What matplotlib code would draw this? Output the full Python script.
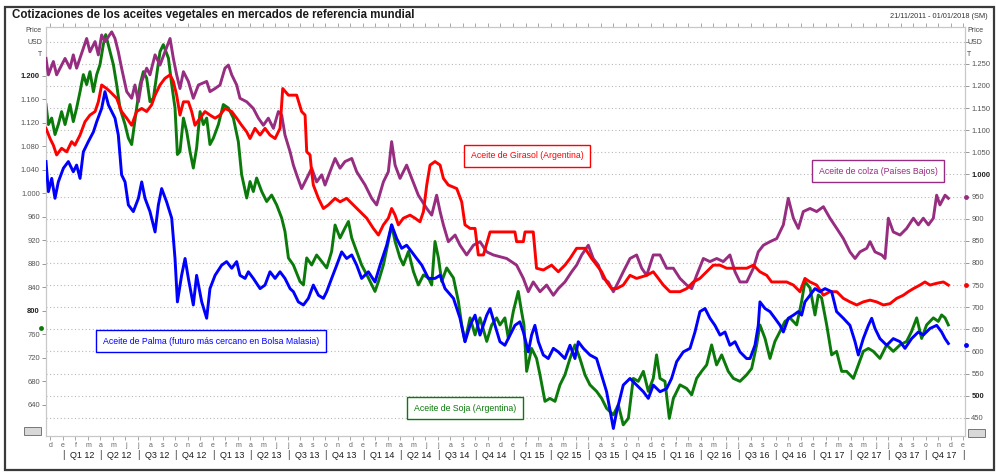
import numpy as np
import matplotlib.pyplot as plt
from matplotlib.patches import Rectangle

plt.rcParams['font.family'] = ['Liberation Sans', 'DejaVu Sans']

# ---- data (decimal years, USD/t) ----
# Aceite de colza (Paises Bajos) - right axis
colza_t = [2011.887, 2011.903, 2011.936, 2011.958, 2012.014, 2012.047, 2012.069, 2012.091, 2012.136, 2012.158,
           2012.180, 2012.214, 2012.236, 2012.258, 2012.280, 2012.325, 2012.347, 2012.369, 2012.391, 2012.425,
           2012.458, 2012.480, 2012.503, 2012.525, 2012.558, 2012.580, 2012.614, 2012.647, 2012.680, 2012.714,
           2012.736, 2012.758, 2012.780, 2012.803, 2012.836, 2012.869, 2012.903, 2012.958, 2012.980, 2013.014,
           2013.047, 2013.080, 2013.103, 2013.125, 2013.158, 2013.180, 2013.225, 2013.269, 2013.303, 2013.336,
           2013.369, 2013.403, 2013.436, 2013.458, 2013.480, 2013.514, 2013.536, 2013.558, 2013.591, 2013.625,
           2013.658, 2013.691, 2013.725, 2013.747, 2013.780, 2013.814, 2013.847, 2013.880, 2013.925, 2013.958,
           2014.014, 2014.058, 2014.091, 2014.136, 2014.169, 2014.191, 2014.214, 2014.247, 2014.291, 2014.325,
           2014.369, 2014.425, 2014.458, 2014.491, 2014.514, 2014.536, 2014.569, 2014.614, 2014.647, 2014.691,
           2014.736, 2014.780, 2014.825, 2014.869, 2014.958, 2015.024, 2015.069, 2015.102, 2015.135, 2015.180,
           2015.224, 2015.269, 2015.302, 2015.346, 2015.391, 2015.424, 2015.458, 2015.502, 2015.535, 2015.569,
           2015.602, 2015.635, 2015.669, 2015.702, 2015.735, 2015.780, 2015.824, 2015.858, 2015.891, 2015.935,
           2015.980, 2016.024, 2016.069, 2016.113, 2016.158, 2016.191, 2016.224, 2016.269, 2016.313, 2016.358,
           2016.402, 2016.446, 2016.480, 2016.513, 2016.558, 2016.602, 2016.635, 2016.669, 2016.713, 2016.758,
           2016.802, 2016.835, 2016.869, 2016.902, 2016.935, 2016.980, 2017.024, 2017.069, 2017.113, 2017.158,
           2017.202, 2017.246, 2017.280, 2017.313, 2017.358, 2017.380, 2017.413, 2017.458, 2017.480, 2017.502,
           2017.535, 2017.580, 2017.624, 2017.669, 2017.702, 2017.735, 2017.769, 2017.802, 2017.824, 2017.846,
           2017.880, 2017.902]
colza_v = [1262, 1225, 1255, 1225, 1262, 1240, 1270, 1240, 1285, 1307,
           1277, 1300, 1270, 1315, 1300, 1322, 1307, 1277, 1240, 1187,
           1172, 1202, 1164, 1210, 1240, 1225, 1270, 1247, 1277, 1307,
           1262, 1225, 1194, 1232, 1210, 1172, 1202, 1210, 1187, 1194,
           1202, 1240, 1247, 1225, 1202, 1172, 1164, 1149, 1127, 1111,
           1127, 1104, 1142, 1134, 1089, 1051, 1021, 999, 968, 991,
           1014, 983, 999, 976, 1006, 1036, 1014, 1029, 1036, 1006,
           976, 946, 931, 983, 1006, 1074, 1021, 991, 1021, 991,
           953, 923, 908, 953, 916, 886, 848, 863, 840, 818,
           840, 848, 825, 818, 810, 795, 765, 735, 757, 735,
           750, 727, 742, 757, 780, 795, 818, 840, 810, 795,
           765, 757, 735, 757, 780, 810, 818, 788, 772, 818,
           818, 788, 788, 765, 750, 742, 772, 810, 803, 810,
           803, 818, 780, 757, 757, 788, 825, 840, 848, 855,
           886, 946, 901, 878, 916, 923, 916, 927, 901, 878,
           855, 825, 810, 825, 833, 848, 825, 818, 810, 901,
           870, 863, 878, 901, 886, 901, 886, 901, 953, 931,
           953, 946]

# Aceite de Girasol (Argentina) - right axis
girasol_t = [2011.887, 2011.914, 2011.936, 2011.958, 2011.991, 2012.025, 2012.058, 2012.080, 2012.114, 2012.147,
             2012.180, 2012.214, 2012.236, 2012.258, 2012.291, 2012.314, 2012.358, 2012.391, 2012.425, 2012.458,
             2012.491, 2012.525, 2012.558, 2012.591, 2012.614, 2012.647, 2012.680, 2012.714, 2012.736, 2012.758,
             2012.780, 2012.803, 2012.836, 2012.858, 2012.880, 2012.914, 2012.947, 2012.980, 2013.014, 2013.047,
             2013.080, 2013.125, 2013.158, 2013.191, 2013.225, 2013.247, 2013.280, 2013.314, 2013.347, 2013.380,
             2013.414, 2013.447, 2013.465, 2013.503, 2013.558, 2013.591, 2013.614, 2013.625, 2013.647, 2013.658,
             2013.669, 2013.703, 2013.736, 2013.769, 2013.814, 2013.847, 2013.891, 2013.936, 2013.980, 2014.025,
             2014.069, 2014.103, 2014.136, 2014.169, 2014.191, 2014.214, 2014.236, 2014.269, 2014.314, 2014.347,
             2014.380, 2014.403, 2014.425, 2014.447, 2014.480, 2014.514, 2014.536, 2014.569, 2014.625, 2014.658,
             2014.680, 2014.714, 2014.747, 2014.769, 2014.803, 2014.847, 2015.013, 2015.024, 2015.069, 2015.080,
             2015.135, 2015.157, 2015.202, 2015.257, 2015.302, 2015.346, 2015.380, 2015.424, 2015.480, 2015.524,
             2015.558, 2015.591, 2015.624, 2015.657, 2015.691, 2015.735, 2015.780, 2015.824, 2015.891, 2015.935,
             2015.969, 2016.002, 2016.046, 2016.113, 2016.158, 2016.202, 2016.246, 2016.291, 2016.335, 2016.380,
             2016.424, 2016.491, 2016.558, 2016.602, 2016.646, 2016.691, 2016.724, 2016.780, 2016.824, 2016.869,
             2016.913, 2016.946, 2016.980, 2017.024, 2017.069, 2017.113, 2017.158, 2017.202, 2017.246, 2017.291,
             2017.335, 2017.380, 2017.424, 2017.469, 2017.513, 2017.558, 2017.602, 2017.635, 2017.669, 2017.713,
             2017.746, 2017.780, 2017.824, 2017.869, 2017.902]
girasol_v = [1104, 1081, 1066, 1044, 1059, 1051, 1074, 1066, 1089, 1119,
             1134, 1142, 1164, 1202, 1194, 1187, 1172, 1142, 1127, 1111,
             1142, 1149, 1142, 1157, 1179, 1202, 1217, 1225, 1210, 1179,
             1134, 1164, 1164, 1142, 1111, 1127, 1142, 1134, 1127, 1134,
             1149, 1142, 1127, 1111, 1096, 1081, 1104, 1089, 1104, 1089,
             1081, 1104, 1194, 1179, 1179, 1142, 1134, 1051, 1044, 1006,
             976, 946, 923, 931, 946, 938, 946, 931, 916, 901,
             878, 863, 886, 901, 923, 908, 886, 901, 908, 901,
             893, 916, 976, 1021, 1029, 1021, 991, 976, 968, 938,
             886, 878, 878, 818, 818, 870, 870, 848, 848, 870,
             870, 788, 784, 795, 780, 795, 810, 833, 833, 810,
             795, 780, 757, 742, 742, 750, 772, 765, 772, 780,
             765, 750, 735, 735, 742, 757, 765, 780, 795, 795,
             788, 788, 788, 795, 780, 772, 757, 757, 757, 750,
             735, 765, 757, 750, 727, 735, 735, 720, 712, 705,
             712, 716, 712, 705, 708, 720, 727, 735, 742, 750,
             757, 750, 754, 757, 750]

# Aceite de Palma (futuro mas cercano en Bolsa Malasia) - right axis
palma_t = [2011.887, 2011.903, 2011.925, 2011.947, 2011.969, 2012.003, 2012.036, 2012.069, 2012.091, 2012.114,
           2012.136, 2012.169, 2012.203, 2012.225, 2012.258, 2012.280, 2012.303, 2012.325, 2012.347, 2012.369,
           2012.391, 2012.414, 2012.436, 2012.469, 2012.503, 2012.525, 2012.547, 2012.580, 2012.614, 2012.636,
           2012.658, 2012.691, 2012.725, 2012.747, 2012.763, 2012.791, 2012.814, 2012.836, 2012.869, 2012.891,
           2012.925, 2012.958, 2012.980, 2013.014, 2013.058, 2013.091, 2013.125, 2013.158, 2013.180, 2013.214,
           2013.236, 2013.269, 2013.314, 2013.347, 2013.380, 2013.414, 2013.447, 2013.480, 2013.514, 2013.536,
           2013.569, 2013.603, 2013.636, 2013.669, 2013.703, 2013.736, 2013.758, 2013.791, 2013.825, 2013.858,
           2013.891, 2013.925, 2013.958, 2013.991, 2014.036, 2014.080, 2014.114, 2014.158, 2014.191, 2014.225,
           2014.258, 2014.291, 2014.325, 2014.358, 2014.392, 2014.436, 2014.480, 2014.514, 2014.547, 2014.603,
           2014.647, 2014.680, 2014.714, 2014.747, 2014.780, 2014.825, 2014.847, 2014.880, 2014.913, 2014.946,
           2014.980, 2015.013, 2015.046, 2015.069, 2015.102, 2015.124, 2015.146, 2015.169, 2015.202, 2015.235,
           2015.269, 2015.302, 2015.346, 2015.380, 2015.413, 2015.435, 2015.469, 2015.513, 2015.557, 2015.591,
           2015.624, 2015.669, 2015.691, 2015.735, 2015.780, 2015.824, 2015.869, 2015.902, 2015.935, 2015.980,
           2016.024, 2016.057, 2016.091, 2016.135, 2016.180, 2016.213, 2016.246, 2016.280, 2016.313, 2016.346,
           2016.380, 2016.413, 2016.446, 2016.480, 2016.513, 2016.557, 2016.580, 2016.613, 2016.635, 2016.646,
           2016.680, 2016.713, 2016.746, 2016.780, 2016.802, 2016.835, 2016.869, 2016.902, 2016.924, 2016.946,
           2016.980, 2017.013, 2017.046, 2017.080, 2017.124, 2017.157, 2017.202, 2017.246, 2017.280, 2017.302,
           2017.335, 2017.369, 2017.391, 2017.413, 2017.446, 2017.491, 2017.535, 2017.580, 2017.613, 2017.657,
           2017.702, 2017.735, 2017.780, 2017.824, 2017.857, 2017.880, 2017.902]
palma_v = [1029, 961, 991, 946, 983, 1014, 1029, 1006, 1021, 991,
           1051, 1074, 1096, 1119, 1149, 1187, 1157, 1142, 1127, 1089,
           999, 983, 931, 916, 946, 983, 946, 916, 870, 931,
           968, 938, 901, 810, 712, 772, 810, 765, 705, 772,
           712, 675, 742, 772, 795, 803, 788, 803, 772, 765,
           780, 765, 742, 750, 780, 765, 780, 765, 742, 735,
           712, 705, 720, 750, 727, 720, 735, 765, 795, 825,
           810, 818, 795, 765, 780, 757, 795, 840, 886, 855,
           833, 840, 825, 810, 795, 765, 765, 772, 742, 720,
           675, 622, 659, 682, 637, 682, 697, 659, 622, 614,
           637, 659, 667, 644, 599, 637, 659, 622, 592, 584,
           607, 599, 584, 614, 584, 622, 607, 592, 584, 546,
           509, 426, 464, 524, 539, 524, 509, 494, 524, 509,
           516, 539, 577, 599, 607, 644, 690, 697, 675, 659,
           637, 644, 614, 622, 599, 584, 584, 614, 659, 712,
           697, 690, 675, 659, 644, 675, 682, 690, 682, 712,
           727, 742, 735, 742, 735, 690, 675, 659, 622, 592,
           629, 659, 675, 652, 629, 614, 629, 622, 607, 629,
           644, 637, 652, 659, 644, 629, 618]

# Aceite de Soja (Argentina) - left axis
soja_t = [2011.887, 2011.903, 2011.925, 2011.947, 2011.969, 2011.991, 2012.014, 2012.047, 2012.069, 2012.091,
          2012.114, 2012.136, 2012.158, 2012.180, 2012.203, 2012.225, 2012.247, 2012.269, 2012.285, 2012.314,
          2012.336, 2012.358, 2012.380, 2012.414, 2012.436, 2012.458, 2012.491, 2012.514, 2012.536, 2012.558,
          2012.580, 2012.603, 2012.625, 2012.647, 2012.669, 2012.703, 2012.725, 2012.747, 2012.763, 2012.780,
          2012.803, 2012.825, 2012.847, 2012.869, 2012.891, 2012.914, 2012.936, 2012.958, 2012.980, 2013.003,
          2013.036, 2013.069, 2013.103, 2013.136, 2013.169, 2013.191, 2013.225, 2013.247, 2013.269, 2013.291,
          2013.325, 2013.358, 2013.391, 2013.425, 2013.458, 2013.480, 2013.503, 2013.536, 2013.580, 2013.603,
          2013.625, 2013.658, 2013.691, 2013.725, 2013.758, 2013.791, 2013.814, 2013.847, 2013.880, 2013.903,
          2013.925, 2013.958, 2013.991, 2014.036, 2014.080, 2014.103, 2014.136, 2014.169, 2014.191, 2014.214,
          2014.247, 2014.269, 2014.303, 2014.336, 2014.369, 2014.403, 2014.436, 2014.458, 2014.480, 2014.503,
          2014.525, 2014.558, 2014.603, 2014.636, 2014.658, 2014.680, 2014.714, 2014.747, 2014.780, 2014.825,
          2014.858, 2014.891, 2014.913, 2014.946, 2014.969, 2015.002, 2015.035, 2015.057, 2015.073, 2015.091,
          2015.124, 2015.157, 2015.180, 2015.213, 2015.246, 2015.280, 2015.313, 2015.346, 2015.380, 2015.413,
          2015.446, 2015.480, 2015.513, 2015.557, 2015.591, 2015.624, 2015.669, 2015.702, 2015.735, 2015.769,
          2015.802, 2015.835, 2015.869, 2015.902, 2015.935, 2015.957, 2015.980, 2016.013, 2016.042, 2016.069,
          2016.113, 2016.157, 2016.191, 2016.224, 2016.257, 2016.291, 2016.324, 2016.357, 2016.391, 2016.435,
          2016.469, 2016.513, 2016.557, 2016.591, 2016.624, 2016.646, 2016.680, 2016.713, 2016.746, 2016.780,
          2016.813, 2016.846, 2016.891, 2016.924, 2016.946, 2016.980, 2017.013, 2017.035, 2017.057, 2017.091,
          2017.124, 2017.157, 2017.191, 2017.224, 2017.269, 2017.302, 2017.335, 2017.369, 2017.402, 2017.446,
          2017.491, 2017.535, 2017.580, 2017.624, 2017.657, 2017.691, 2017.724, 2017.757, 2017.802, 2017.835,
          2017.857, 2017.880, 2017.902]
soja_v = [1151, 1117, 1128, 1100, 1117, 1139, 1117, 1151, 1122, 1145,
          1173, 1202, 1185, 1207, 1173, 1202, 1219, 1253, 1270, 1241,
          1219, 1185, 1145, 1117, 1094, 1083, 1145, 1185, 1207, 1196,
          1156, 1162, 1202, 1241, 1253, 1230, 1185, 1145, 1066, 1071,
          1128, 1105, 1071, 1043, 1077, 1139, 1117, 1128, 1083, 1094,
          1117, 1151, 1145, 1128, 1088, 1032, 992, 1020, 1003, 1026,
          1003, 986, 997, 980, 958, 935, 890, 878, 850, 844,
          890, 878, 895, 884, 873, 901, 946, 924, 941, 952,
          924, 901, 878, 856, 833, 850, 878, 918, 946, 918,
          890, 878, 901, 867, 844, 861, 856, 844, 918, 890,
          850, 873, 856, 816, 776, 748, 788, 759, 788, 748,
          776, 788, 776, 788, 753, 799, 833, 799, 776, 697,
          736, 719, 691, 646, 651, 646, 674, 691, 719, 742,
          719, 691, 674, 663, 651, 634, 623, 640, 606, 617,
          685, 680, 697, 663, 685, 725, 685, 680, 617, 651,
          674, 668, 657, 685, 697, 708, 742, 708, 725, 697,
          685, 680, 691, 702, 742, 776, 753, 719, 748, 765,
          782, 788, 776, 816, 850, 839, 793, 827, 822, 776,
          725, 731, 697, 697, 685, 708, 731, 736, 731, 719,
          742, 731, 742, 748, 765, 788, 753, 776, 788, 782,
          793, 788, 776]

left_ticks = list(range(640, 1201, 40))
right_ticks = list(range(450, 1301, 50))
months = ['e', 'f', 'm', 'a', 'm', 'j', 'j', 'a', 's', 'o', 'n', 'd']
years = [2012, 2013, 2014, 2015, 2016, 2017]

c_colza, c_gira, c_palma, c_soja = '#962D80', '#FF0000', '#0000FF', '#0B7A0B'


def fmt(v):
    return f"{v:,}".replace(",", ".")


W, H = 996, 473
fig = plt.figure(figsize=(W / 100, H / 100), dpi=100)
fig.patch.set_facecolor('white')

ax = fig.add_axes([46 / W, 1 - 436 / H, (965 - 46) / W, (436 - 27) / H])
ax2 = ax.twinx()

x0, x1 = 2011.887, 2018.013
ax.set_xlim(x0, x1)
ax.set_ylim(587, 1283)
ax2.set_ylim(409, 1333)

# grid from the right scale
for v in right_ticks:
    ax2.axhline(v, color='#b8b8b8', lw=0.8, ls=(0, (1, 2.2)), zorder=0)

lw = 2.1
# soja belongs to the left scale; map it onto the twin so it shares the drawing order
soja_on_right = np.interp(soja_v, ax.get_ylim(), ax2.get_ylim())
ax2.plot(colza_t, colza_v, color=c_colza, lw=lw, zorder=3)
ax2.plot(girasol_t, girasol_v, color=c_gira, lw=lw, zorder=3)
ax2.plot(palma_t, palma_v, color=c_palma, lw=lw, zorder=3)
ax2.plot(soja_t, soja_on_right, color=c_soja, lw=lw, zorder=2)

# last value markers
for v, c in [(colza_v[-1] + 4, c_colza), (girasol_v[-1], c_gira), (palma_v[-1] - 3, c_palma)]:
    ax2.plot([x1 + 0.005], [v], 'o', ms=3.5, color=c, mec='none', clip_on=False, zorder=5)
ax.plot([x0 - 0.033], [soja_v[-1] - 5], 'o', ms=3.5, color=c_soja, mec='none', clip_on=False, zorder=5)

# axes styling
for a in (ax, ax2):
    for s in a.spines.values():
        s.set_color('#c8c8c8')
        s.set_linewidth(0.8)

ax.set_yticks(left_ticks)
ax.set_yticklabels([fmt(v) for v in left_ticks])
ax.tick_params(axis='y', labelsize=5.5, labelcolor='#555555', color='#888888', length=3, width=0.6, pad=1.5)
for lab, v in zip(ax.get_yticklabels(), left_ticks):
    if v in (1200, 800):
        lab.set_fontweight('bold')
        lab.set_color('#222222')

ax2.set_yticks(right_ticks)
ax2.set_yticklabels([fmt(v) if v < 1300 else '' for v in right_ticks])
ax2.tick_params(axis='y', labelsize=5.5, labelcolor='#555555', color='#888888', length=3, width=0.6, pad=1.5)
for lab, v in zip(ax2.get_yticklabels(), right_ticks):
    if v in (1000, 500):
        lab.set_fontweight('bold')
        lab.set_color('#222222')

# month ticks
mpos, mlab = [2011 + 11 / 12], ['d']
for y in years + [2018]:
    for i, m in enumerate(months):
        p = y + i / 12
        if p <= x1:
            mpos.append(p)
            mlab.append(m)
ax.set_xticks(mpos)
ax.set_xticklabels(mlab)
ax.tick_params(axis='x', labelsize=5, labelcolor='#666666', color='#999999', length=3, width=0.6,
               pad=1.5, top=True, direction='out')

# quarter labels
xt = ax.get_xaxis_transform()
for y in years:
    for q in range(4):
        mid = y + (q + 0.5) / 4
        ax.text(mid, -0.047, f"Q{q + 1} {str(y)[2:]}", transform=xt,
                ha='center', va='center', fontsize=6.5, color='#1a1a1a')
        ax.text(y + q / 4, -0.047, '|', transform=xt,
                ha='center', va='center', fontsize=7, color='#333333')
ax.text(2018, -0.047, '|', transform=xt, ha='center', va='center', fontsize=7, color='#333333')

# series labels
boxes = [
    ("Aceite de Girasol (Argentina)", c_gira, 527, 156),
    ("Aceite de colza (Países Bajos)", c_colza, 878, 171),
    ("Aceite de Palma (futuro más cercano en Bolsa Malasia)", c_palma, 211, 341),
    ("Aceite de Soja (Argentina)", c_soja, 465, 408),
]
for txt, c, px, py in boxes:
    fig.text(px / W, 1 - py / H, txt, color=c, fontsize=6.3, ha='center', va='center',
             bbox=dict(boxstyle='square,pad=0.75', fc='white', ec=c, lw=1.0), zorder=6)

# header texts
fig.text(12 / W, 1 - 15 / H, "Cotizaciones de los aceites vegetales en mercados de referencia mundial",
         fontsize=8.3, fontweight='bold', color='#1a1a1a', ha='left', va='center')
fig.text(890 / W, 1 - 16 / H, "21/11/2011 - 01/01/2018 (SM)", fontsize=5.3, color='#333333',
         ha='left', va='center')
for i, t in enumerate(["Price", "USD", "T"]):
    fig.text(42 / W, 1 - (31 + 12 * i) / H, t, fontsize=5, color='#444444', ha='right', va='center')
    fig.text(967 / W, 1 - (31 + 12 * i) / H, t, fontsize=5, color='#444444', ha='left', va='center')

# small zoom buttons
for bx, by in [(24, 427), (968, 429)]:
    fig.add_artist(Rectangle((bx / W, 1 - (by + 8) / H), 17 / W, 8 / H, transform=fig.transFigure,
                             fc='#d8d8d8', ec='#777777', lw=0.7))

# outer frame
fig.add_artist(Rectangle((5 / W, 1 - 470 / H), 989 / W, 463 / H, transform=fig.transFigure,
                         fill=False, ec='#3a3a3a', lw=1.6))

fig.savefig("out.png", dpi=100)
